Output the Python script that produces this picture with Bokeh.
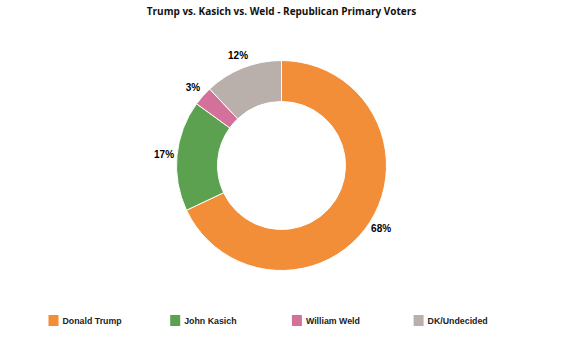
import math
from bokeh.plotting import figure
from bokeh.models import ColumnDataSource, Range1d
from bokeh.core.properties import value
from bokeh.embed import file_html
from bokeh.resources import INLINE

title = "Trump vs. Kasich vs. Weld - Republican Primary Voters"
names = ["Donald Trump", "John Kasich", "William Weld", "DK/Undecided"]
shares = [68, 17, 3, 12]
colors = ["#F28E37", "#5BA150", "#D4719A", "#B9B0AB"]

W, H = 565, 354
CX, CY = 281, H - 165
R_OUT, R_IN, R_LAB = 105, 64, 118

total = float(sum(shares))
starts, ends, lx, ly, labels = [], [], [], [], []
cum = 0.0
for s in shares:
    a0 = math.pi / 2 - 2 * math.pi * cum / total
    cum += s
    a1 = math.pi / 2 - 2 * math.pi * cum / total
    starts.append(a0)
    ends.append(a1)
    mid = (a0 + a1) / 2
    lx.append(CX + R_LAB * math.cos(mid))
    ly.append(CY + R_LAB * math.sin(mid))
    labels.append(f"{s}%")

src = ColumnDataSource(dict(start=starts, end=ends, color=colors,
                            lx=lx, ly=ly, label=labels))

p = figure(width=W, height=H, output_backend="svg", toolbar_location=None,
           x_range=Range1d(0, W), y_range=Range1d(0, H), min_border=0,
           outline_line_color=None, background_fill_color="white")
p.axis.visible = False
p.grid.visible = False

p.annular_wedge(x=CX, y=CY, inner_radius=R_IN, outer_radius=R_OUT,
                inner_radius_units="screen", outer_radius_units="screen",
                start_angle="start", end_angle="end", direction="clock",
                fill_color="color", line_color="white", line_width=1, source=src)

p.text(x="lx", y="ly", text="label", source=src, text_align="center",
       text_baseline="middle", text_font=value("Liberation Sans"),
       text_font_style="bold", text_font_size="10px", text_color="#000000")

p.text(x=[281], y=[H - 10], text=[title], text_align="center",
       text_baseline="middle", text_font=value("Open Sans"),
       text_font_style="bold", text_font_size="10px", text_color="#111111")

LEG_X0, LEG_DX, LEG_Y = 53, 121.7, H - 320
leg_x = [LEG_X0 + i * LEG_DX for i in range(len(names))]
p.rect(x=leg_x, y=[LEG_Y] * len(names), width=10, height=11,
       width_units="screen", height_units="screen",
       fill_color=colors, line_color=None)
p.text(x=[x + 9 for x in leg_x], y=[LEG_Y] * len(names), text=names,
       text_align="left", text_baseline="middle",
       text_font=value("Liberation Sans"), text_font_style="bold",
       text_font_size="8.8px", text_color="#222222")

open("out.html", "w").write(file_html(p, INLINE))
